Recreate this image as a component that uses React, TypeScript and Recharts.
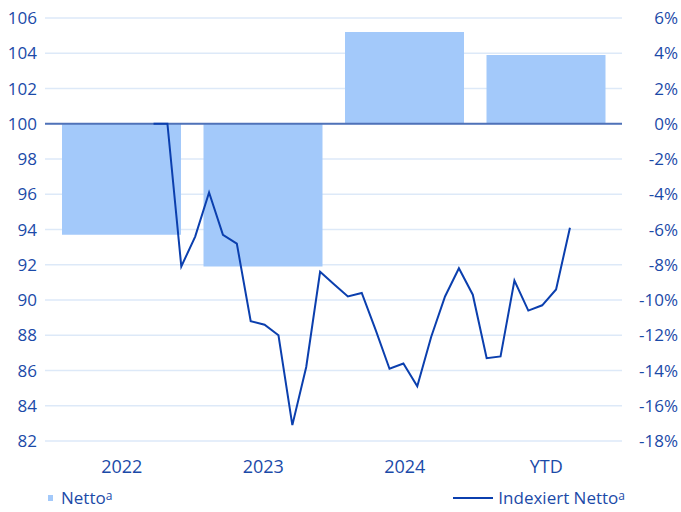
import {
  ComposedChart,
  Bar,
  Line,
  XAxis,
  YAxis,
  CartesianGrid,
  ReferenceLine,
} from 'recharts'

// yearly net change (%), right axis
const years = ['2022', '2023', '2024', 'YTD']
const nettoPct = [-6.3, -8.1, 5.2, 3.9]

// monthly indexed net, left axis (start = 100)
const indexValues = [
  100, 100, 91.9, 93.6, 96.1, 93.7, 93.2, 88.8, 88.6, 88.0, 82.9, 86.2,
  91.6, 90.9, 90.2, 90.4, 88.3, 86.1, 86.4, 85.1, 87.9, 90.2, 91.8, 90.3,
  86.7, 86.8, 91.1, 89.4, 89.7, 90.6, 94.1,
]

const leftTicks = [82, 84, 86, 88, 90, 92, 94, 96, 98, 100, 102, 104, 106]
const rightTicks = [-18, -16, -14, -12, -10, -8, -6, -4, -2, 0, 2, 4, 6]

const TEXT = '#1b4aa8'
const BAR = '#a3c9fa'
const LINE = '#0b3fae'
const GRID = '#dde9f8'

const barData = years.map((year, i) => ({ year, netto: nettoPct[i] }))
const lineData = indexValues.map((v, i) => ({ t: i, index: v }))

// hidden time axis, stretched so the monthly points sit under the yearly bands
const T_MIN = -7.82
const T_MAX = 33.75

function RightTick({ x, y, payload }: { x?: number; y?: number; payload?: { value: number } }) {
  return (
    <text x={(x ?? 0) + 48} y={y} dy="0.355em" textAnchor="end" fill={TEXT} fontSize={17}>
      {payload?.value}%
    </text>
  )
}

const supStyle = { fontSize: 12, verticalAlign: '0.3em', lineHeight: 0 }

export default function App() {
  return (
    <div
      style={{
        position: 'absolute',
        left: 0,
        top: 0,
        width: 681,
        height: 512,
        background: '#fff',
        fontFamily: '"Open Sans", sans-serif',
      }}
    >
      <ComposedChart
        width={681}
        height={480}
        data={barData}
        margin={{ top: 18, right: 0, bottom: 0, left: 0 }}
      >
        <CartesianGrid vertical={false} stroke={GRID} strokeWidth={1.5} xAxisId="t" yAxisId="idx" />
        <XAxis
          xAxisId="cat"
          dataKey="year"
          axisLine={false}
          tickLine={false}
          tickMargin={13}
          height={39}
          padding={{ left: 6, right: 5 }}
          tick={{ fill: TEXT, fontSize: 18 }}
        />
        <XAxis xAxisId="t" dataKey="t" type="number" hide domain={[T_MIN, T_MAX]} allowDataOverflow />
        <YAxis
          yAxisId="idx"
          orientation="left"
          width={45}
          domain={[82, 106]}
          ticks={leftTicks}
          interval={0}
          axisLine={false}
          tickLine={false}
          tick={{ fill: TEXT, fontSize: 17 }}
        />
        <YAxis
          yAxisId="pct"
          orientation="right"
          width={59}
          domain={[-18, 6]}
          ticks={rightTicks}
          interval={0}
          axisLine={false}
          tickLine={false}
          tick={<RightTick />}
        />
        <Bar
          xAxisId="cat"
          yAxisId="pct"
          dataKey="netto"
          fill={BAR}
          barSize={119}
          isAnimationActive={false}
        />
        <ReferenceLine xAxisId="t" yAxisId="idx" y={100} stroke="#4f72b8" strokeWidth={2} />
        <Line
          xAxisId="t"
          yAxisId="idx"
          data={lineData}
          dataKey="index"
          type="linear"
          stroke={LINE}
          strokeWidth={2}
          dot={false}
          isAnimationActive={false}
        />
      </ComposedChart>
      <div
        style={{
          position: 'absolute',
          top: 486,
          left: 48,
          display: 'flex',
          alignItems: 'center',
          color: TEXT,
          fontSize: 17,
        }}
      >
        <span style={{ width: 5, height: 6, background: BAR, marginRight: 8 }} />
        <span>
          Netto<span style={supStyle}>a</span>
        </span>
      </div>
      <div
        style={{
          position: 'absolute',
          top: 486,
          right: 56,
          display: 'flex',
          alignItems: 'center',
          color: TEXT,
          fontSize: 17,
        }}
      >
        <span style={{ width: 40, height: 2, background: LINE, marginRight: 5 }} />
        <span>
          Indexiert Netto<span style={supStyle}>a</span>
        </span>
      </div>
    </div>
  )
}
